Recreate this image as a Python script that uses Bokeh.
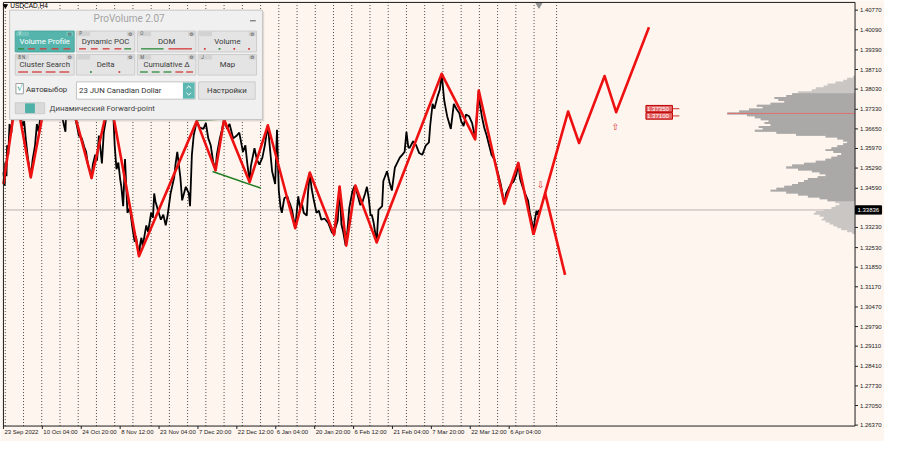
from bokeh.plotting import figure
from bokeh.models import Range1d
from bokeh.core.properties import value
from bokeh.embed import file_html
from bokeh.resources import INLINE

# ---------------- data ----------------
symbol = "USDCAD,H4"
panel_title = "ProVolume 2.07"

date_labels = ["23 Sep 2022", "10 Oct 04:00", "24 Oct 20:00", "8 Nov 12:00", "23 Nov 04:00",
               "7 Dec 20:00", "22 Dec 12:00", "6 Jan 04:00", "20 Jan 20:00", "6 Feb 12:00",
               "21 Feb 04:00", "7 Mar 20:00", "22 Mar 12:00", "6 Apr 04:00"]
date_bars = [0, 64, 128, 192, 256, 320, 384, 448, 512, 576, 640, 704, 768, 832]
week_bars = [3, 33, 63, 93, 123, 153, 183, 213, 243, 273, 303, 333, 363, 393, 423,
             453, 483, 513, 543, 573, 603, 633, 663, 693, 723, 753, 783, 813, 843, 873]
shift_bar = 910

price_ticks = [1.40770, 1.40090, 1.39390, 1.38710, 1.38030, 1.37330, 1.36650, 1.35970,
               1.35290, 1.34590, 1.33230, 1.32530, 1.31850, 1.31170, 1.30470, 1.29790,
               1.29110, 1.28410, 1.27730, 1.27050, 1.26370]

price_bar = [0, 2, 3, 5, 6, 8, 10, 13, 16, 19,
             21, 24, 27, 31, 34, 37, 40, 45, 48, 52,
             55, 58, 61, 66, 71, 76, 81, 86, 92, 97,
             102, 103, 108, 113, 118, 121, 124, 129, 133, 136,
             139, 142, 145, 147, 151, 154, 157, 159, 162, 165,
             168, 170, 175, 178, 181, 183, 186, 189, 192, 194,
             197, 200, 204, 208, 212, 216, 218, 223, 225, 227,
             229, 235, 238, 243, 246, 248, 250, 254, 259, 263,
             267, 270, 275, 281, 283, 286, 291, 294, 300, 305,
             307, 310, 313, 318, 323, 329, 333, 337, 341, 345,
             349, 351, 356, 359, 363, 368, 372, 378, 384, 388,
             394, 398, 401, 405, 407, 413, 417, 421, 426, 430,
             435, 438, 442, 447, 450, 453, 456, 458, 462, 467,
             469, 472, 475, 480, 485, 488, 491, 494, 499, 501,
             504, 507, 510, 515, 519, 523, 528, 534, 540, 544,
             546, 550, 553, 556, 559, 563, 566, 569, 574, 578,
             582, 587, 590, 595, 598, 601, 604, 606, 609, 614,
             617, 623, 625, 631, 635, 639, 644, 648, 652, 656,
             660, 663, 666, 668, 674, 679, 684, 689, 695, 700,
             702, 706, 709, 714, 718, 721, 725, 727, 730, 736,
             741, 745, 750, 753, 757, 761, 766, 771, 774, 776,
             782, 784, 787, 791, 795, 799, 803, 808, 814, 818,
             821, 824, 827, 831, 835, 839, 844, 847, 850, 854,
             858, 863, 866, 870, 872, 874, 877, 879, 881]
price_close = [1.3514, 1.3468, 1.3548, 1.3501, 1.3608, 1.3575, 1.3682, 1.3652, 1.3735, 1.3709,
               1.3776, 1.3715, 1.3735, 1.3675, 1.3692, 1.3625, 1.3568, 1.3497, 1.3558, 1.3608,
               1.3682, 1.3655, 1.3715, 1.3776, 1.3809, 1.3843, 1.3792, 1.3769, 1.3742, 1.3702,
               1.3655, 1.3715, 1.3789, 1.3735, 1.3702, 1.3675, 1.3642, 1.3632, 1.3602, 1.3585,
               1.3541, 1.3521, 1.3494, 1.3541, 1.3575, 1.3555, 1.3642, 1.3608, 1.3545, 1.3652,
               1.3689, 1.3735, 1.3776, 1.3735, 1.3702, 1.3608, 1.3525, 1.3548, 1.3491, 1.3464,
               1.3397, 1.3560, 1.3374, 1.3391, 1.3324, 1.3273, 1.3293, 1.3223, 1.3267, 1.3287,
               1.3257, 1.3330, 1.3307, 1.3374, 1.3357, 1.3441, 1.3414, 1.3384, 1.3350, 1.3367,
               1.3330, 1.3364, 1.3441, 1.3498, 1.3541, 1.3585, 1.3498, 1.3417, 1.3464, 1.3441,
               1.3397, 1.3575, 1.3642, 1.3692, 1.3669, 1.3665, 1.3685, 1.3632, 1.3608, 1.3551,
               1.3521, 1.3575, 1.3632, 1.3658, 1.3698, 1.3665, 1.3682, 1.3632, 1.3642, 1.3652,
               1.3585, 1.3608, 1.3548, 1.3481, 1.3535, 1.3598, 1.3558, 1.3541, 1.3565, 1.3608,
               1.3678, 1.3608, 1.3518, 1.3474, 1.3662, 1.3451, 1.3391, 1.3374, 1.3424, 1.3431,
               1.3417, 1.3401, 1.3381, 1.3320, 1.3431, 1.3391, 1.3407, 1.3374, 1.3364, 1.3441,
               1.3513, 1.3458, 1.3424, 1.3374, 1.3381, 1.3350, 1.3354, 1.3340, 1.3307, 1.3298,
               1.3320, 1.3347, 1.3465, 1.3334, 1.3307, 1.3260, 1.3314, 1.3391, 1.3447, 1.3468,
               1.3441, 1.3401, 1.3407, 1.3441, 1.3464, 1.3424, 1.3364, 1.3367, 1.3340, 1.3271,
               1.3384, 1.3397, 1.3484, 1.3518, 1.3481, 1.3451, 1.3531, 1.3548, 1.3565, 1.3575,
               1.3585, 1.3655, 1.3602, 1.3598, 1.3622, 1.3608, 1.3581, 1.3575, 1.3608, 1.3618,
               1.3675, 1.3752, 1.3735, 1.3776, 1.3802, 1.3856, 1.3766, 1.3742, 1.3709, 1.3665,
               1.3752, 1.3735, 1.3719, 1.3692, 1.3675, 1.3715, 1.3709, 1.3685, 1.3655, 1.3628,
               1.3798, 1.3749, 1.3709, 1.3669, 1.3642, 1.3608, 1.3575, 1.3558, 1.3508, 1.3474,
               1.3441, 1.3405, 1.3441, 1.3458, 1.3474, 1.3481, 1.3508, 1.3547, 1.3491, 1.3464,
               1.3441, 1.3417, 1.3374, 1.3334, 1.3298, 1.3347, 1.3381, 1.3367, 1.3384]

zigzag_bar = [0, 21, 45, 76, 92, 108, 145, 175, 223, 318, 349, 363, 405, 435, 480, 504,
              544, 553, 564, 579, 614, 721, 776, 782, 824, 847, 872]
zigzag_price = [1.34742, 1.37756, 1.34967, 1.38426, 1.37488, 1.37890, 1.34943, 1.37763,
                1.32231, 1.36919, 1.35211, 1.36976, 1.34799, 1.36775, 1.33202, 1.35134,
                1.32977, 1.34652, 1.32599, 1.34685, 1.32710, 1.38560, 1.36283, 1.37981,
                1.34049, 1.35469, 1.32977]
forecast_bar = [872, 929, 947, 989, 1008, 1062]
forecast_price = [1.32977, 1.37254, 1.36159, 1.38483, 1.37230, 1.40177]
forecast_alt_bar = [891, 924]
forecast_alt_price = [1.34431, 1.31584]

trend_a_bar = [317, 362]
trend_a_price = [1.36953, 1.36996]
trend_b_bar = [344, 423]
trend_b_price = [1.35168, 1.34598]

signal_down = (884, 1.34709)
signal_up = (1007, 1.36942)
target_bar = 1057
target_prices = [1.37350, 1.37100]
last_price = 1.33836

profile_top = 1.38459
profile_step = 0.00067
profile_volume = [2, 8, 12, 20, 28, 32, 40, 44, 58, 64,
                  70, 82, 78, 72, 86, 100, 94, 108, 118, 130,
                  110, 102, 96, 88, 92, 86, 98, 94, 102, 80,
                  60, 30, 18, 12, 8, 12, 18, 24, 30, 22,
                  14, 18, 24, 30, 40, 52, 64, 70, 58, 44,
                  36, 30, 38, 48, 52, 58, 64, 72, 80, 86,
                  70, 58, 48, 36, 28, 20, 16, 20, 24, 32,
                  40, 42, 36, 32, 34, 30, 26, 22, 18, 14,
                  8, 3]
value_area = (9, 64)

# ---------------- layout / style ----------------
BG = "#FEF5EF"
RED = "#EE1111"
AX = "#1E1E1E"
x_start, x_end = 0, 1401            # chart area in bars
y_start, y_end = 1.26337, 1.41038   # chart area in price
# reference layout: chart area spans px 3..870 x 2..441 of a 900 x 457 window
KX = (x_end - x_start) / 867.0      # bars per reference pixel
KY = (y_end - y_start) / 439.0      # price per reference pixel
vol_scale = KX


def px_x(rx):
    return x_start + (rx - 3.0) * KX


def px_y(ry):
    return y_end - (ry - 2.0) * KY


p = figure(width=884, height=441, output_backend="svg", toolbar_location=None,
           x_range=Range1d(px_x(0), px_x(900)), y_range=Range1d(px_y(457), px_y(0)),
           x_axis_location=None, y_axis_location=None,
           min_border=0, min_border_left=0, min_border_right=0,
           min_border_top=0, min_border_bottom=0,
           background_fill_color=BG, border_fill_color=BG, outline_line_color=None)
p.xgrid.visible = False
p.ygrid.visible = False

# weekly dotted grid + shift separator
nw = len(week_bars)
p.segment(x0=week_bars, x1=week_bars, y0=[y_start] * nw, y1=[y_end] * nw,
          line_color="#4A4A4A", line_dash="1 2", line_width=1)
p.segment(x0=[shift_bar], x1=[shift_bar], y0=[y_start], y1=[y_end],
          line_color="#4A4A4A", line_dash="1 2", line_width=1)

# last price line
p.segment(x0=[x_start], x1=[x_end], y0=[last_price], y1=[last_price],
          line_color="#BDB3AE", line_width=1)

# volume profile (stepped outline anchored on the price scale)
n = len(profile_volume)
centers = [profile_top - i * profile_step for i in range(n)]


def profile_outline(i0, i1):
    xs, ys = [x_end], [centers[i0] + profile_step / 2]
    for i in range(i0, i1 + 1):
        left = x_end - profile_volume[i] * vol_scale
        xs += [left, left]
        ys += [centers[i] + profile_step / 2, centers[i] - profile_step / 2]
    xs.append(x_end)
    ys.append(centers[i1] - profile_step / 2)
    return xs, ys


lx, ly = profile_outline(0, n - 1)
p.patch(lx, ly, fill_color="#C9C6C4", line_color=None)
dx, dy = profile_outline(value_area[0], value_area[1])
p.patch(dx, dy, fill_color="#ABA9A7", line_color=None)
imax = profile_volume.index(max(profile_volume))
p.segment(x0=[x_end - profile_volume[imax] * vol_scale], x1=[x_end],
          y0=[centers[imax]], y1=[centers[imax]], line_color="#E07070", line_width=1)

# price
p.line(price_bar, price_close, line_color="#000000", line_width=1.8)

# trend lines
p.line(trend_a_bar, trend_a_price, line_color="#1E7D1E", line_width=1.5)
p.line(trend_b_bar, trend_b_price, line_color="#1E7D1E", line_width=1.5)

# zigzag + forecast
p.line(zigzag_bar, zigzag_price, line_color=RED, line_width=2.6, line_join="round")
p.line(forecast_bar, forecast_price, line_color=RED, line_width=2.6, line_join="round")
p.line(forecast_alt_bar, forecast_alt_price, line_color=RED, line_width=2.6)

p.text(x=[signal_down[0]], y=[signal_down[1]], text=["\u21e9"], text_color="#E03030",
       text_font=value("DejaVu Sans"), text_font_size=value("9px"),
       text_align="center", text_baseline="middle")
p.text(x=[signal_up[0]], y=[signal_up[1] - 2 * KY], text=["\u21e7"], text_color="#E03030",
       text_font=value("DejaVu Sans"), text_font_size=value("9px"),
       text_align="center", text_baseline="top")

# target price labels
for tp in target_prices:
    p.quad(left=[target_bar], right=[target_bar + 27 * KX], top=[tp + 3.4 * KY],
           bottom=[tp - 3.4 * KY], fill_color="#E36A6A", line_color="#C00000", line_width=1)
    p.text(x=[target_bar + 1.2 * KX], y=[tp], text=[f"{tp:.5f}"],
           text_font=value("Liberation Sans"), text_font_size=value("6px"),
           text_color="#FFFFFF", text_align="left", text_baseline="middle")
    p.segment(x0=[target_bar + 27 * KX], x1=[target_bar + 34 * KX],
              y0=[tp], y1=[tp], line_color="#D03030", line_width=1)

# shift marker at top
p.scatter(x=[price_bar[-1]], y=[px_y(4.5)], marker="inverted_triangle", size=6,
          fill_color="#909090", line_color="#909090")

# ---------------- axes (price scale right, time scale below) ----------------
p.line([x_start, x_start, x_end, x_end, x_start], [y_start, y_end, y_end, y_start, y_start],
       line_color=AX, line_width=1)
nt = len(price_ticks)
p.segment(x0=[x_end] * nt, x1=[x_end + 3 * KX] * nt, y0=price_ticks, y1=price_ticks,
          line_color=AX, line_width=1)
p.text(x=[x_end + 5 * KX] * nt, y=price_ticks, text=[f"{t:.5f}" for t in price_ticks],
       text_font=value("Liberation Sans"), text_font_size=value("6px"),
       text_color="#222222", text_align="left", text_baseline="middle")
nd = len(date_bars)
p.segment(x0=date_bars, x1=date_bars, y0=[y_start] * nd, y1=[y_start - 3 * KY] * nd,
          line_color=AX, line_width=1)
p.text(x=[b + 1 * KX for b in date_bars], y=[y_start - 3.5 * KY] * nd, text=date_labels,
       text_font=value("Liberation Sans"), text_font_size=value("6px"),
       text_color="#222222", text_align="left", text_baseline="top")

# last price box on the scale
p.quad(left=[x_end + 0.5 * KX], right=[x_end + 27 * KX], top=[last_price + 4.3 * KY],
       bottom=[last_price - 4.3 * KY], fill_color="#000000", line_color="#000000")
p.text(x=[x_end + 2.5 * KX], y=[last_price], text=[f"{last_price:.5f}"],
       text_font=value("Liberation Sans"), text_font_size=value("6px"),
       text_color="#FFFFFF", text_align="left", text_baseline="middle")

# symbol caption
p.scatter(x=[px_x(5)], y=[px_y(5.5)], marker="inverted_triangle", size=4,
          fill_color="#000000", line_color="#000000")
p.text(x=[px_x(10)], y=[px_y(5.5)], text=[symbol], text_font=value("Liberation Sans"),
       text_font_size=value("6.5px"), text_color="#000000", text_align="left",
       text_baseline="middle")

# ---------------- ProVolume panel (overlay) ----------------
def box(l, t, r, b, fill, line=None, lw=1.0, alpha=1.0):
    p.quad(left=[px_x(l)], right=[px_x(r)], top=[px_y(t)], bottom=[px_y(b)],
           fill_color=fill, fill_alpha=alpha, line_color=line, line_width=lw, level="overlay")


def label(x, y, s, size, color, align="left", font="Roboto"):
    p.text(x=[px_x(x)], y=[px_y(y)], text=[s], text_font=value(font),
           text_font_size=value(f"{size}px"), text_color=color, text_align=align,
           text_baseline="middle", level="overlay")


def dash(x0, x1, y, color, w=1.3):
    p.segment(x0=[px_x(x0)], x1=[px_x(x1)], y0=[px_y(y)], y1=[px_y(y)],
              line_color=color, line_width=w, level="overlay")


def dot(x, y, color):
    box(x - 0.9, y - 0.9, x + 0.9, y + 0.9, color)


box(10.5, 11.5, 268.5, 125.3, "#8C8480", None, alpha=0.25)
box(9.3, 10, 266.7, 123.3, "#F0F0F0", "#C6C6C6")
label(131, 18.5, panel_title, 10, "#A3A3A3", "center")
dash(254, 260, 21, "#707070", 1.2)

GREEN_D = "#2E8B3A"
RED_D = "#D43A3A"
buttons = [
    ("Volume Profile", "V", 15, 75, 31.7, 53.3, True,
     [("d", GREEN_D, 18, 24), ("d", RED_D, 28, 35), ("d", RED_D, 40, 47), ("d", RED_D, 52, 59), ("d", RED_D, 64, 71)]),
    ("Dynamic POC", "P", 77.3, 136.7, 31.7, 53.3, False,
     [("d", RED_D, 80, 87), ("d", RED_D, 92, 99), ("d", RED_D, 104, 111), ("d", RED_D, 116, 123), ("d", GREEN_D, 126, 133)]),
    ("DOM", "O", 139.3, 199, 31.7, 53.3, False,
     [("d", GREEN_D, 143, 166), ("d", RED_D, 171, 195)]),
    ("Volume", "", 201.3, 260.7, 31.7, 53.3, False,
     [("o", RED_D, 208, 0), ("o", GREEN_D, 223, 0), ("o", RED_D, 238, 0), ("o", RED_D, 253, 0)]),
    ("Cluster Search", "B  N", 15, 75, 56, 77.3, False,
     [("d", RED_D, 18, 28), ("d", RED_D, 32, 42), ("d", RED_D, 46, 56), ("d", RED_D, 60, 70)]),
    ("Delta", "", 77.3, 136.7, 56, 77.3, False,
     [("o", GREEN_D, 92, 0), ("o", RED_D, 121, 0)]),
    ("Cumulative \u0394", "M", 139.3, 199, 56, 77.3, False,
     [("d", GREEN_D, 142, 150), ("d", GREEN_D, 154, 162), ("d", GREEN_D, 166, 174), ("d", RED_D, 178, 186), ("d", RED_D, 189, 196)]),
    ("Map", "J", 201.3, 260.7, 56, 77.3, False, []),
]
for name, key, l, r, t, b, active, strip in buttons:
    fill = "#55B5AD" if active else "#E4E4E4"
    box(l, t, r, b, fill, "#CCCCCC" if not active else "#4AA59D")
    box(l + 1, t + 0.6, l + 14, t + 5.2, "#D2D2D2" if not active else "#6FC3BB")
    box(r - 8, t + 0.6, r - 1, t + 5.2, "#D2D2D2" if not active else "#6FC3BB")
    label((l + r) / 2, t + 10.6, name, 7.8, "#FFFFFF" if active else "#3A3A3A", "center")
    if key:
        label(l + 3, t + 3, key, 4.5, "#555555" if not active else "#EAF6F5")
    label(r - 4.5, t + 3, "\u2699", 5, "#555555", "center", "DejaVu Sans")
    ys = b - 3.2
    for kind, col, a, z in strip:
        if kind == "d":
            dash(a, z, ys, col)
        else:
            dot(a, ys, col)

# checkbox row
box(15.7, 86, 23.3, 96.7, "#FFFFFF", "#A0A0A0")
label(19.8, 90.5, "\u221a", 9, "#3AA79E", "center", "DejaVu Sans")
label(26, 92.5, "\u0410\u0432\u0442\u043e\u0432\u044b\u0431\u043e\u0440", 7.8, "#333333")
box(77.3, 84.3, 198.3, 102.3, "#FFFFFF", "#C4C4C4")
label(80, 93.5, "23 JUN Canadian Dollar", 7.8, "#333333")
box(185.7, 85, 197.7, 101.7, "#5CB8B0", None)
p.line([px_x(189.3), px_x(191.7), px_x(194.1)], [px_y(91), px_y(88.6), px_y(91)],
       line_color="#FFFFFF", line_width=1, level="overlay")
p.line([px_x(189.3), px_x(191.7), px_x(194.1)], [px_y(95.6), px_y(98), px_y(95.6)],
       line_color="#FFFFFF", line_width=1, level="overlay")
box(201.7, 84.3, 259.3, 102.3, "#E4E4E4", "#CCCCCC")
label(230.5, 93.5, "\u041d\u0430\u0441\u0442\u0440\u043e\u0439\u043a\u0438", 7.8, "#333333", "center")

# toggle row
box(15, 106, 45, 117.3, "#DADADA", "#CCCCCC")
box(25, 106.6, 35, 116.7, "#4FB0A8", None)
label(50, 112, "\u0414\u0438\u043d\u0430\u043c\u0438\u0447\u0435\u0441\u043a\u0438\u0439 Forward-point",
      7.8, "#444444")

open("out.html", "w").write(file_html(p, INLINE))
